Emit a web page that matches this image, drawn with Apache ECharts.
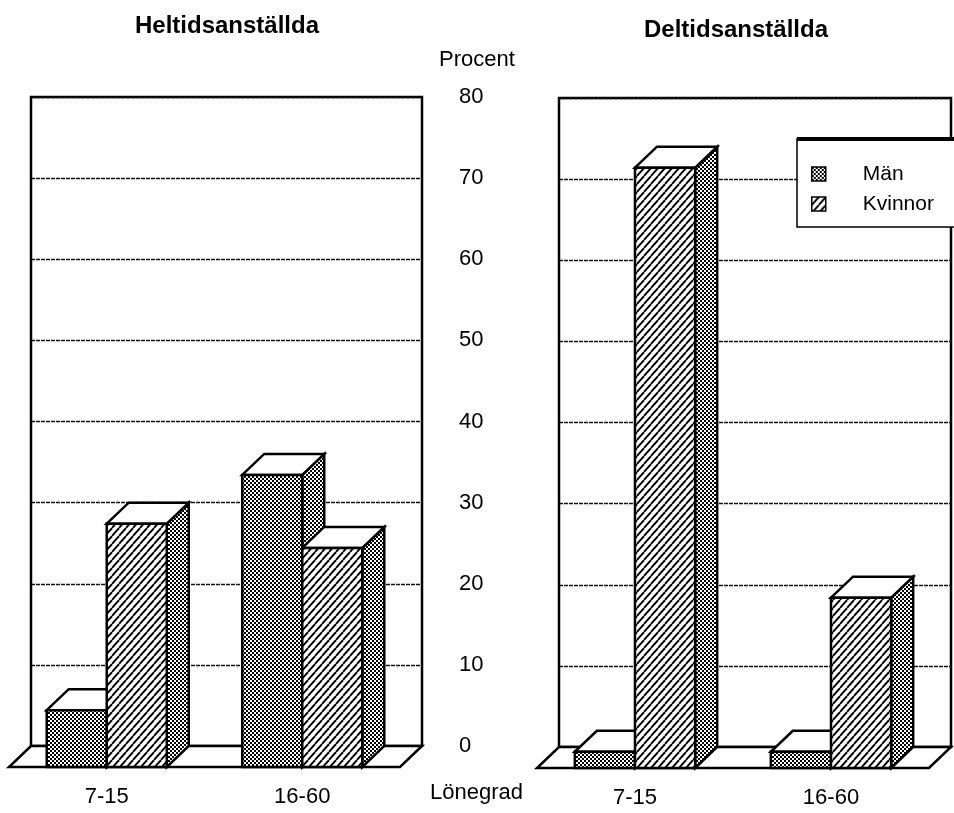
<!DOCTYPE html>
<html>
<head>
<meta charset="utf-8">
<title>Lönegrad</title>
<script src="https://cdn.jsdelivr.net/npm/echarts@6/dist/echarts.min.js"></script>
<style>
  html, body { margin: 0; padding: 0; background: #fff; }
  #chart { width: 954px; height: 813px; }
</style>
</head>
<body>
<div id="chart"></div>
<script>
// data (percent)
var categories = ['7-15', '16-60'];
var seriesNames = ['Män', 'Kvinnor'];
var panelTitles = ['Heltidsanställda', 'Deltidsanställda'];
var manFull = [7, 36];
var womanFull = [30, 27];
var manPart = [2, 2];
var womanPart = [74, 21];
var yMax = 80;
var yStep = 10;

var FONT = 'Liberation Sans, Arial, Helvetica, sans-serif';
var DX = 22, DY = 21;      // depth of the fake 3d
var BAR_RATIO = 0.307;     // bar width as part of a category band

function makeChecker() {
    var c = document.createElement('canvas');
    c.width = 4; c.height = 4;
    var g = c.getContext('2d');
    g.fillStyle = '#fff'; g.fillRect(0, 0, 4, 4);
    g.fillStyle = '#000';
    g.fillRect(0, 0, 2, 2);
    g.fillRect(2, 2, 2, 2);
    return { image: c, repeat: 'repeat' };
}

function makeHatch() {
    var w = 7, h = 8;
    var c = document.createElement('canvas');
    c.width = w; c.height = h;
    var g = c.getContext('2d');
    g.fillStyle = '#fff'; g.fillRect(0, 0, w, h);
    g.strokeStyle = '#000'; g.lineWidth = 1.9;
    for (var k = -1; k <= 1; k++) {
        g.beginPath();
        g.moveTo(k * w, h);
        g.lineTo((k + 1) * w, 0);
        g.stroke();
    }
    return { image: c, repeat: 'repeat' };
}

var checker = makeChecker();
var hatch = makeHatch();

function pairs(arr) {
    return arr.map(function (v, i) { return [i, v]; });
}

// one 3d bar: front face, top, side. side 0 = left of the band centre, 1 = right
function barRenderer(side, frontFill) {
    return function (params, api) {
        var cat = api.value(0), val = api.value(1);
        var base = api.coord([cat, 0]);
        var top = api.coord([cat, val]);
        var w = api.size([1, 0])[0] * BAR_RATIO;
        var x0 = side === 0 ? base[0] - w : base[0];
        var x1 = x0 + w;
        var fx0 = x0 - DX, fx1 = x1 - DX;
        var fTop = top[1] + DY, fBot = base[1] + DY;
        var st = { stroke: '#000', lineWidth: 2.5 };
        return {
            type: 'group',
            children: [
                { type: 'polygon', shape: { points: [[fx1, fBot], [fx1, fTop], [x1, top[1]], [x1, base[1]]] },
                  style: Object.assign({ fill: checker }, st) },
                { type: 'polygon', shape: { points: [[fx0, fTop], [x0, top[1]], [x1, top[1]], [fx1, fTop]] },
                  style: Object.assign({ fill: '#fff' }, st) },
                { type: 'rect', shape: { x: fx0, y: fTop, width: w, height: fBot - fTop },
                  style: Object.assign({ fill: frontFill }, st) }
            ]
        };
    };
}

function floorRenderer(params, api) {
    var cs = params.coordSys;
    var bx0 = cs.x, bx1 = cs.x + cs.width, by = cs.y + cs.height;
    return {
        type: 'polygon',
        shape: { points: [[bx0, by], [bx1, by], [bx1 - DX, by + DY], [bx0 - DX, by + DY]] },
        style: { fill: '#fff', stroke: '#000', lineWidth: 2.5 }
    };
}

function xAxisFor(gi) {
    var ax = {
        type: 'category', gridIndex: gi, data: categories,
        axisLine: { show: false }, axisTick: { show: false },
        axisLabel: { margin: 40, fontSize: 22, color: '#000', fontFamily: FONT, padding: [0, 2 * DX, 0, 0] }
    };
    if (gi === 0) {
        ax.name = 'Lönegrad';
        ax.nameLocation = 'end';
        ax.nameGap = 8;
        ax.nameMoveOverlap = false;
        ax.nameTextStyle = { fontSize: 22, color: '#000', fontFamily: FONT, verticalAlign: 'top', lineHeight: 94 };
    }
    return ax;
}

function yAxisFor(gi) {
    var ax = {
        type: 'value', gridIndex: gi, min: 0, max: yMax, interval: yStep,
        position: 'right',
        axisLine: { show: false }, axisTick: { show: false },
        splitLine: { show: true, lineStyle: { color: '#111', width: 1.3, type: [4, 1] } },
        axisLabel: { show: gi === 0, margin: 37, fontSize: 22, color: '#000', fontFamily: FONT }
    };
    if (gi === 0) {
        ax.name = 'Procent';
        ax.nameLocation = 'end';
        ax.nameGap = 26;
        ax.nameMoveOverlap = false;
        ax.nameTextStyle = { fontSize: 22, color: '#000', fontFamily: FONT, padding: [0, 0, 0, 110] };
    }
    return ax;
}

function panelSeries(gi, men, women) {
    return [
        { type: 'custom', xAxisIndex: gi, yAxisIndex: gi, z: 1, silent: true,
          renderItem: floorRenderer, data: [[0, 0]] },
        { type: 'custom', name: seriesNames[0], xAxisIndex: gi, yAxisIndex: gi, z: 2,
          itemStyle: { color: checker }, renderItem: barRenderer(0, checker), data: pairs(men) },
        { type: 'custom', name: seriesNames[1], xAxisIndex: gi, yAxisIndex: gi, z: 3,
          itemStyle: { color: hatch }, renderItem: barRenderer(1, hatch), data: pairs(women) }
    ];
}

var chart = echarts.init(document.getElementById('chart'), null, { renderer: 'canvas' });

chart.setOption({
    animation: false,
    backgroundColor: '#fff',
    title: [
        { text: panelTitles[0], left: 222, top: 9, textAlign: 'center',
          textStyle: { fontSize: 24, fontWeight: 'bold', color: '#000', fontFamily: FONT } },
        { text: panelTitles[1], left: 731, top: 13, textAlign: 'center',
          textStyle: { fontSize: 24, fontWeight: 'bold', color: '#000', fontFamily: FONT } }
    ],
    legend: {
        data: seriesNames,
        orient: 'vertical',
        left: 806, top: 157,
        icon: 'rect', itemWidth: 14, itemHeight: 14, itemGap: 6,
        itemStyle: { borderColor: '#000', borderWidth: 1.5 },
        textStyle: { fontSize: 21, color: '#000', fontFamily: FONT, lineHeight: 24, padding: [0, 0, 0, 32] },
        selectedMode: false
    },
    graphic: [
        { type: 'rect', shape: { x: 797, y: 139, width: 180, height: 88 },
          style: { fill: '#fff', stroke: '#000', lineWidth: 1.5 }, z: 4 },
        { type: 'line', shape: { x1: 797, y1: 139, x2: 954, y2: 139 },
          style: { stroke: '#000', lineWidth: 4 }, z: 4 }
    ],
    grid: [
        { left: 31, top: 97, width: 391, height: 649, outerBoundsMode: 'none',
          show: true, borderColor: '#000', borderWidth: 2.5, backgroundColor: '#fff' },
        { left: 559, top: 98, width: 392, height: 649, outerBoundsMode: 'none',
          show: true, borderColor: '#000', borderWidth: 2.5, backgroundColor: '#fff' }
    ],
    xAxis: [xAxisFor(0), xAxisFor(1)],
    yAxis: [yAxisFor(0), yAxisFor(1)],
    series: panelSeries(0, manFull, womanFull).concat(panelSeries(1, manPart, womanPart))
});
</script>
</body>
</html>
